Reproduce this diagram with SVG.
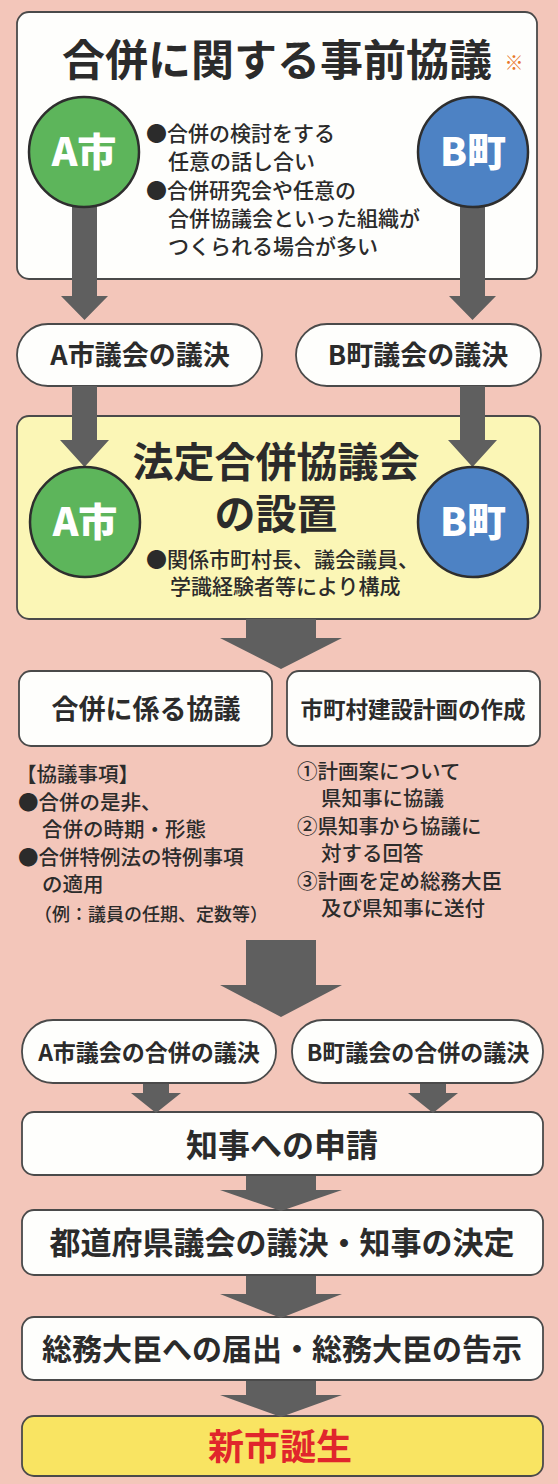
<svg xmlns="http://www.w3.org/2000/svg" width="558" height="1484" viewBox="0 0 558 1484">
<style>
.bx{fill:#fefefc;stroke:#4a4a4a;stroke-width:1.8}
.yl{fill:#fbf6b6;stroke:#4a4a4a;stroke-width:1.8}
.ar{fill:#5f5f5f}
.t{font-family:"Noto Sans CJK JP","Noto Sans CJK SC",sans-serif;fill:#2b2b2b}
.b{font-weight:700}
.m{font-weight:500}
.c{text-anchor:middle}
.ca{fill:#5db55b;stroke:#2e2e2e;stroke-width:2.5}
.cb{fill:#4d82c4;stroke:#2e2e2e;stroke-width:2.5}
.ct{font-family:"Noto Sans CJK JP",sans-serif;font-weight:900;fill:#ffffff;font-size:39px;text-anchor:middle}
</style>
<rect width="558" height="1484" fill="#f3c6ba"/>

<g id="pre-talks">
<rect class="bx" x="17" y="12" width="520" height="267" rx="12"/>
<text class="t b c" x="277" y="76" font-size="43">合併に関する事前協議</text>
<text x="514" y="70" font-family="Noto Sans CJK JP,sans-serif" font-size="19" font-weight="700" fill="#e8772a" text-anchor="middle">※</text>
<text class="t m" font-size="21">
<tspan x="146" y="141">●合併の検討をする</tspan>
<tspan x="168" y="169">任意の話し合い</tspan>
<tspan x="146" y="198">●合併研究会や任意の</tspan>
<tspan x="168" y="226">合併協議会といった組織が</tspan>
<tspan x="168" y="254">つくられる場合が多い</tspan>
</text>
</g>

<g id="a-council">
<rect class="bx" x="17" y="324" width="245" height="62" rx="31"/>
<text class="t b c" x="140" y="365" font-size="27">A市議会の議決</text>
</g>
<g id="b-council">
<rect class="bx" x="296" y="324" width="245" height="62" rx="31"/>
<text class="t b c" x="418" y="365" font-size="27">B町議会の議決</text>
</g>

<g id="legal-council">
<rect class="yl" x="17" y="416" width="523" height="203" rx="12"/>
<text class="t b c" x="276" y="477" font-size="41">法定合併協議会</text>
<text class="t b c" x="276" y="529" font-size="41">の設置</text>
<text class="t m" font-size="21">
<tspan x="146" y="567">●関係市町村長、議会議員、</tspan>
<tspan x="170" y="594">学識経験者等により構成</tspan>
</text>
</g>

<g id="merger-talks">
<rect class="bx" x="19" y="671" width="253" height="75" rx="12"/>
<text class="t b c" x="146" y="719" font-size="27">合併に係る協議</text>
<text class="t m" font-size="20.5">
<tspan x="16" y="782">【協議事項】</tspan>
<tspan x="18" y="810">●合併の是非、</tspan>
<tspan x="42" y="837">合併の時期・形態</tspan>
<tspan x="18" y="865">●合併特例法の特例事項</tspan>
<tspan x="42" y="892">の適用</tspan>
</text>
<text class="t m" font-size="18" x="34" y="921">（例：議員の任期、定数等）</text>
</g>

<g id="construction-plan">
<rect class="bx" x="287" y="671" width="253" height="75" rx="12"/>
<text class="t b c" x="413" y="718" font-size="22.5">市町村建設計画の作成</text>
<text class="t m" font-size="20.5">
<tspan x="297" y="779">①計画案について</tspan>
<tspan x="321" y="806">県知事に協議</tspan>
<tspan x="297" y="834">②県知事から協議に</tspan>
<tspan x="321" y="861">対する回答</tspan>
<tspan x="297" y="889">③計画を定め総務大臣</tspan>
<tspan x="321" y="916">及び県知事に送付</tspan>
</text>
</g>

<g id="a-merger-vote">
<rect class="bx" x="22" y="1020" width="254" height="63" rx="31"/>
<text class="t b c" x="149" y="1061" font-size="23">A市議会の合併の議決</text>
</g>
<g id="b-merger-vote">
<rect class="bx" x="292" y="1020" width="251" height="63" rx="31"/>
<text class="t b c" x="418" y="1061" font-size="23">B町議会の合併の議決</text>
</g>

<g id="application">
<rect class="bx" x="22" y="1112" width="521" height="63" rx="12"/>
<text class="t b c" x="282" y="1157" font-size="32">知事への申請</text>
</g>
<g id="prefecture-decision">
<rect class="bx" x="22" y="1210" width="521" height="65" rx="12"/>
<text class="t b c" x="282" y="1254" font-size="31">都道府県議会の議決・知事の決定</text>
</g>
<g id="minister-notice">
<rect class="bx" x="22" y="1317" width="521" height="63" rx="12"/>
<text class="t b c" x="282" y="1360" font-size="30">総務大臣への届出・総務大臣の告示</text>
</g>
<g id="new-city">
<rect x="22" y="1416" width="521" height="60" rx="12" fill="#f9e462" stroke="#4a4a4a" stroke-width="1.8"/>
<text class="t b c" x="280" y="1460" font-size="36" style="fill:#e0262c">新市誕生</text>
</g>

<g id="connectors">
<polygon class="ar" points="72,200 97,200 97,296 108,296 84.5,320 61,296 72,296"/>
<polygon class="ar" points="460,200 485,200 485,296 496,296 472.5,320 449,296 460,296"/>
<polygon class="ar" points="72,386 97,386 97,440 109,440 84.5,467 60,440 72,440"/>
<polygon class="ar" points="460,386 485,386 485,440 497,440 472.5,467 448,440 460,440"/>
<polygon class="ar" points="246,619 316,619 316,638 342,638 281,669 220,638 246,638"/>
<polygon class="ar" points="246,940 316,940 316,985 342,985 281,1017 220,985 246,985"/>
<polygon class="ar" points="143,1084 169,1084 169,1093 181,1093 156,1113 131,1093 143,1093"/>
<polygon class="ar" points="420,1084 446,1084 446,1093 458,1093 433,1113 408,1093 420,1093"/>
<polygon class="ar" points="246,1176 316,1176 316,1190 342,1190 281,1211 220,1190 246,1190"/>
<polygon class="ar" points="246,1276 316,1276 316,1294 342,1294 281,1318 220,1294 246,1294"/>
<polygon class="ar" points="246,1381 316,1381 316,1395 342,1395 281,1417 220,1395 246,1395"/>
</g>

<g id="a-city-1">
<circle class="ca" cx="84" cy="152" r="55"/>
<text class="ct" x="84" y="166">A市</text>
</g>
<g id="b-town-1">
<circle class="cb" cx="473" cy="152" r="55"/>
<text class="ct" x="473" y="166">B町</text>
</g>
<g id="a-city-2">
<circle class="ca" cx="85" cy="522" r="55"/>
<text class="ct" x="85" y="536">A市</text>
</g>
<g id="b-town-2">
<circle class="cb" cx="473" cy="522" r="55"/>
<text class="ct" x="473" y="536">B町</text>
</g>
</svg>
